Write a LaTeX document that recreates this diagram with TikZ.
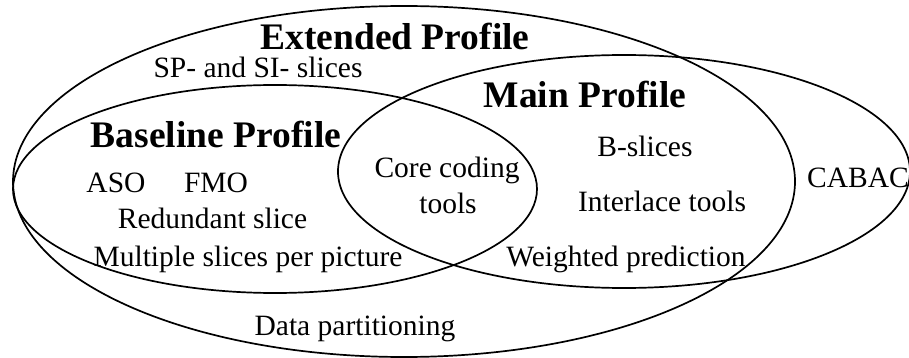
\documentclass[tikz,border=0pt]{standalone}
\usepackage{fontspec}
\setmainfont{Liberation Serif}
\begin{document}
\begin{tikzpicture}[x=1pt,y=-1pt,
  setline/.style={line width=1.7pt, black},
  heading/.style={font=\fontsize{37.5}{40}\selectfont\bfseries, inner sep=0pt, anchor=base},
  item/.style={font=\fontsize{29.5}{32}\selectfont, inner sep=0pt, anchor=base}]
  \useasboundingbox (0,0) rectangle (909,358);
  \clip (0,0) rectangle (909,358);

  % profile sets
  \draw[setline] (404,181.5) ellipse [x radius=391, y radius=175.5];   % Extended
  \draw[setline] (275,189) ellipse [x radius=262, y radius=104];       % Baseline
  \draw[setline] (624,171.5) ellipse [x radius=286, y radius=116.5];   % Main

  % headings
  \node[heading] (ext)  at (395,50)  {Extended Profile};
  \node[heading] (base) at (216,148) {Baseline Profile};
  \node[heading] (main) at (585,108) {Main Profile};

  % tools
  \node[item] (spsi)  at (258,78)  {SP- and SI- slices};
  \node[item] (aso)   at (116,192) {ASO};
  \node[item] (fmo)   at (216,192) {FMO};
  \node[item] (red)   at (212.5,228) {Redundant slice};
  \node[item] (multi) at (248,266) {Multiple slices per picture};
  \node[item] (dp)    at (355,335) {Data partitioning};
  \node[item] (coreA) at (447,177) {Core coding};
  \node[item] (coreB) at (448,213) {tools};
  \node[item] (bsl)   at (645,157) {B-slices};
  \node[item] (intl)  at (662,211) {Interlace tools};
  \node[item] (wp)    at (626,266) {Weighted prediction};
  \node[item, anchor=base west] (cabac) at (807,187) {CABAC};
\end{tikzpicture}
\end{document}
